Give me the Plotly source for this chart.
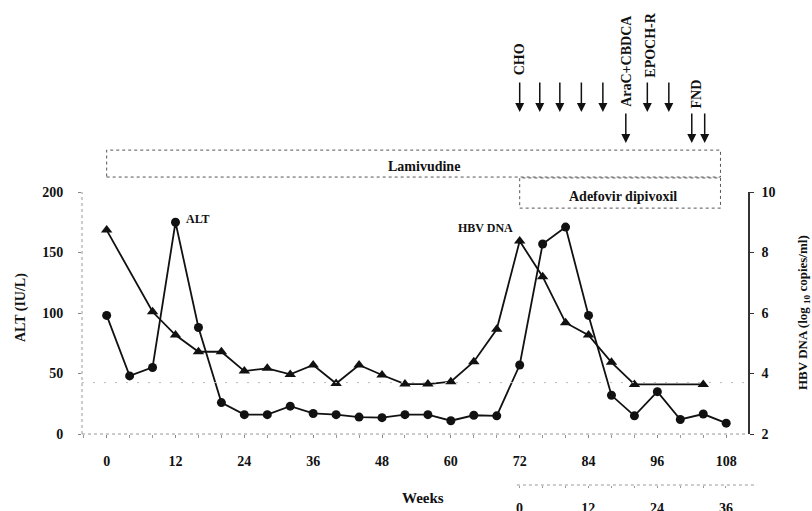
import plotly.graph_objects as go

# ---------------- data ----------------
WEEKS_ALT = [0, 4, 8, 12, 16, 20, 24, 28, 32, 36, 40, 44, 48, 52, 56, 60, 64, 68,
             72, 76, 80, 84, 88, 92, 96, 100, 104, 108]
ALT = [98, 48, 55, 175, 88, 26, 16, 16, 23, 17, 16, 14, 13.5, 16, 16, 11, 15.5, 15,
       57, 157, 171, 98, 32, 15, 35, 12, 16.5, 9]

WEEKS_DNA = [0, 8, 12, 16, 20, 24, 28, 32, 36, 40, 44, 48, 52, 56, 60, 64, 68,
             72, 76, 80, 84, 88, 92, 104]
HBV_DNA = [8.74, 6.04, 5.27, 4.72, 4.72, 4.08, 4.17, 3.97, 4.28, 3.67, 4.28, 3.95,
           3.65, 3.65, 3.73, 4.39, 5.46, 8.38, 7.2, 5.68, 5.27, 4.37, 3.64, 3.64]

DETECTION_LIMIT = 3.7

X_TICKS = [0, 12, 24, 36, 48, 60, 72, 84, 96, 108]
ALT_TICKS = [0, 50, 100, 150, 200]
DNA_TICKS = [2, 4, 6, 8, 10]
ADEF_WEEK_TICKS = [0, 12, 24, 36]

LAMIVUDINE = (0, 107)
ADEFOVIR = (72, 107)

CHEMO_WEEKS = [72, 75.5, 79, 82.75, 86.5, 90.5, 94.25, 98, 102, 104.25]
CHEMO_LONG = [False, False, False, False, False, True, False, False, True, True]
CHEMO_LABELS = {0: "CHO", 5: "AraC+CBDCA", 6: "EPOCH-R", 8: "FND"}

# ---------------- style ----------------
FONT = "Liberation Serif"
INK = "#111111"
tickfont = dict(family=FONT, size=14, color=INK, weight="bold")

fig = go.Figure()
fig.add_trace(go.Scatter(
    x=WEEKS_ALT, y=ALT, mode="lines+markers", yaxis="y", showlegend=False,
    line=dict(color=INK, width=1.8),
    marker=dict(symbol="circle", size=9, color=INK)))
fig.add_trace(go.Scatter(
    x=WEEKS_DNA, y=HBV_DNA, mode="lines+markers", yaxis="y2", showlegend=False,
    line=dict(color=INK, width=1.8),
    marker=dict(symbol="triangle-up", size=10, color=INK)))
# carrier for the adefovir-week axis
fig.add_trace(go.Scatter(x=[], y=[], xaxis="x2", yaxis="y", showlegend=False))

fig.update_layout(
    template="none",
    width=812, height=511,
    margin=dict(l=82, r=64, t=192, b=26),
    paper_bgcolor="white", plot_bgcolor="rgba(0,0,0,0)",
    showlegend=False,
    xaxis=dict(domain=[0, 1], range=[-4.3, 111.8], anchor="y",
               tickmode="array", tickvals=X_TICKS, ticks="outside", ticklen=3,
               tickcolor="#888", showline=False, showgrid=False, zeroline=False,
               minor=dict(dtick=4, tick0=0, ticks="outside", ticklen=3, tickcolor="#999"),
               tickfont=tickfont, ticklabelstandoff=11, automargin=False),
    xaxis2=dict(domain=[0.653, 1], range=[-0.44, 39.84], anchor="free", position=0,
                tickmode="array", tickvals=ADEF_WEEK_TICKS, ticks="outside", ticklen=2,
                tickcolor="#999", showline=False, showgrid=False, zeroline=False,
                minor=dict(dtick=4, tick0=0, ticks="outside", ticklen=2, tickcolor="#999"),
                tickfont=tickfont, ticklabelstandoff=8, automargin=False),
    yaxis=dict(domain=[0.174, 1], range=[0, 200], anchor="x",
               tickmode="array", tickvals=ALT_TICKS, ticks="outside", ticklen=3,
               tickcolor="#888", showline=False, showgrid=False, zeroline=False,
               tickfont=tickfont, ticklabelstandoff=12, automargin=False),
    yaxis2=dict(overlaying="y", side="right", range=[2, 10], anchor="x",
                tickmode="array", tickvals=DNA_TICKS, ticks="outside", ticklen=4,
                tickcolor="#333", showline=True, linecolor="#333", linewidth=1.5,
                showgrid=False, zeroline=False,
                tickfont=tickfont, ticklabelstandoff=5, automargin=False),
)

shapes = [
    # faint dotted left and bottom axis lines
    dict(type="line", xref="x domain", yref="y domain", x0=0, x1=0, y0=0, y1=1,
         line=dict(color="#999", width=1, dash="dot")),
    dict(type="line", xref="x domain", yref="y domain", x0=0, x1=1, y0=0, y1=0,
         line=dict(color="#999", width=1, dash="dot")),
    # secondary week axis line
    dict(type="line", xref="paper", yref="paper", x0=0.653, x1=1.0135, y0=0, y1=0,
         line=dict(color="#999", width=1, dash="dot")),
    # detection limit
    dict(type="line", xref="x domain", yref="y2", x0=0, x1=1,
         y0=DETECTION_LIMIT, y1=DETECTION_LIMIT,
         line=dict(color="#bbb", width=1, dash="2px,9px")),
    # treatment boxes
    dict(type="rect", xref="x", yref="paper", x0=LAMIVUDINE[0], x1=LAMIVUDINE[1],
         y0=1.051, y1=1.143, line=dict(color="#555", width=1, dash="dot")),
    dict(type="rect", xref="x", yref="paper", x0=ADEFOVIR[0], x1=ADEFOVIR[1],
         y0=0.945, y1=1.048, line=dict(color="#555", width=1, dash="dot")),
]
fig.update_layout(shapes=shapes)

ann = []
labfont = dict(family=FONT, size=14, color=INK, weight="bold")
ann.append(dict(text="Lamivudine", xref="x", yref="paper",
                x=(LAMIVUDINE[0] + LAMIVUDINE[1]) / 2, y=1.087, xshift=10,
                xanchor="center", yanchor="middle", showarrow=False, font=labfont))
ann.append(dict(text="Adefovir dipivoxil", xref="x", yref="paper",
                x=(ADEFOVIR[0] + ADEFOVIR[1]) / 2, y=0.986, xshift=3,
                xanchor="center", yanchor="middle", showarrow=False, font=labfont))
# series labels
ann.append(dict(text="ALT", xref="x", yref="y", x=WEEKS_ALT[3], y=ALT[3],
                xanchor="left", yanchor="middle", xshift=8, yshift=3, showarrow=False,
                font=dict(family=FONT, size=12, color=INK, weight="bold")))
ann.append(dict(text="HBV DNA", xref="x", yref="y2", x=WEEKS_DNA[17], y=HBV_DNA[17],
                xanchor="right", yanchor="middle", xshift=-5, yshift=13, showarrow=False,
                font=dict(family=FONT, size=12, color=INK, weight="bold")))
# axis titles
ann.append(dict(text="Weeks", xref="paper", yref="paper", x=0.512, y=-0.044,
                xanchor="center", yanchor="middle", showarrow=False,
                font=dict(family=FONT, size=15, color=INK, weight="bold")))
ann.append(dict(text="ALT (IU/L)", xref="paper", yref="paper", x=-0.0916, y=0.6075,
                xanchor="center", yanchor="middle", textangle=-90, showarrow=False,
                font=dict(family=FONT, size=14, color=INK, weight="bold")))
ann.append(dict(text="HBV DNA (log <sub>10</sub> copies/ml)", xref="paper", yref="paper",
                x=1.0826, y=0.587, xanchor="center", yanchor="middle", textangle=-90,
                showarrow=False,
                font=dict(family=FONT, size=13, color=INK, weight="bold")))
# chemotherapy arrows
for i, (w, long_) in enumerate(zip(CHEMO_WEEKS, CHEMO_LONG)):
    head = 1.167 if long_ else 1.273
    ann.append(dict(text="", xref="x", yref="paper", x=w, y=head,
                    ax=0, ay=-31, axref="pixel", ayref="pixel",
                    showarrow=True, arrowhead=2, arrowsize=1.2, arrowwidth=1.5,
                    arrowcolor=INK))
label_pos = {0: (CHEMO_WEEKS[0], 1.452), 5: (CHEMO_WEEKS[5], 1.447),
             6: (CHEMO_WEEKS[6] + 0.6, 1.502), 8: (CHEMO_WEEKS[8] + 0.8, 1.334)}
for i, txt in CHEMO_LABELS.items():
    x, y = label_pos[i]
    ann.append(dict(text=txt, xref="x", yref="paper", x=x, y=y, textangle=-90,
                    xanchor="center", yanchor="middle", showarrow=False,
                    font=dict(family=FONT, size=14, color=INK, weight="bold")))
fig.update_layout(annotations=ann)

fig.write_html(
    "out.html",
    config={"displayModeBar": False},
    post_script="document.body.style.margin='0';document.body.style.overflow='hidden';",
)
